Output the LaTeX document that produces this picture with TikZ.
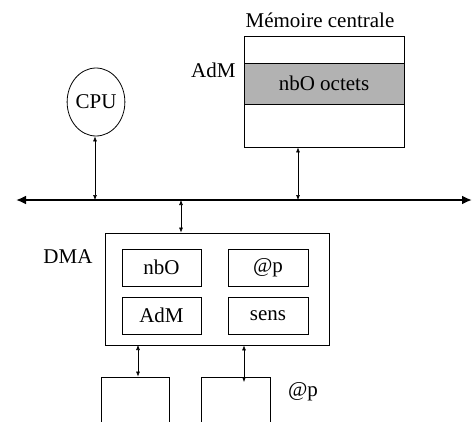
\documentclass[tikz,border=0pt]{standalone}
\usepackage{fontspec}
\setmainfont{Liberation Serif}
\usetikzlibrary{shapes.geometric,arrows.meta}

\begin{document}
\begin{tikzpicture}[x=1pt,y=-1pt,
    every node/.style={font=\fontsize{21}{25}\selectfont},
    boite/.style={draw,line width=0.8pt,inner sep=0pt},
    lien/.style={{Latex[length=5pt,width=4pt]}-{Latex[length=5pt,width=4pt]},line width=0.6pt},
    bus/.style={{Latex[length=10pt,width=9pt]}-{Latex[length=10pt,width=9pt]},line width=2.6pt}]
            \useasboundingbox (0,0) rectangle (474,421);
            \clip (0,0) rectangle (474,421);
            \node[boite,minimum width=160pt,minimum height=111pt] (mem) at (324,91.5) {};
            \node[boite,fill=gray!60,minimum width=160pt,minimum height=41pt] (bloc) at (324,83.5) {nbO octets};
            \node (memtitre) at (320,20) {Mémoire centrale};
            \node[anchor=east] (adm) at (239,70) {AdM};
            \node[boite,ellipse,minimum width=57pt,minimum height=68pt] (cpu) at (96,102) {CPU};
            \coordinate (busL) at (16,200);
            \coordinate (busR) at (472,200);
            \draw[bus] (busL) -- (busR);
            \node[boite,minimum width=224pt,minimum height=112pt] (dma) at (217,289) {};
            \node (dmatitre) at (68,257) {DMA};
            \node[boite,minimum width=79pt,minimum height=37pt] (nbo) at (161.5,267.5) {nbO};
            \node[boite,minimum width=80pt,minimum height=37pt] (adp) at (268,267.5) {@p};
            \node[boite,minimum width=79pt,minimum height=37pt] (admr) at (161.5,315.5) {AdM};
            \node[boite,minimum width=80pt,minimum height=37pt] (sens) at (268,315.5) {sens};
            \node[boite,minimum width=68pt,minimum height=63pt] (per1) at (135,408.5) {};
            \node[boite,minimum width=69pt,minimum height=63pt] (per2) at (235.5,408.5) {};
            \node (adpper) at (303,392) {@p};
            \coordinate (cputap) at (95,200);
            \coordinate (memtap) at (298,200);
            \coordinate (dmatap) at (181,200);
            \coordinate (per1tap) at (138,345);
            \coordinate (per2end) at (244,382);
            \draw[lien] (cputap |- cpu.south) -- (cputap);
            \draw[lien] (memtap |- mem.south) -- (memtap);
            \draw[lien] (dmatap) -- (dmatap |- dma.north);
            \draw[lien] (per1tap) -- (per1tap |- per1.north);
            \draw[lien] (per2end |- dma.south) -- (per2end);
        \end{tikzpicture}
\end{document}
